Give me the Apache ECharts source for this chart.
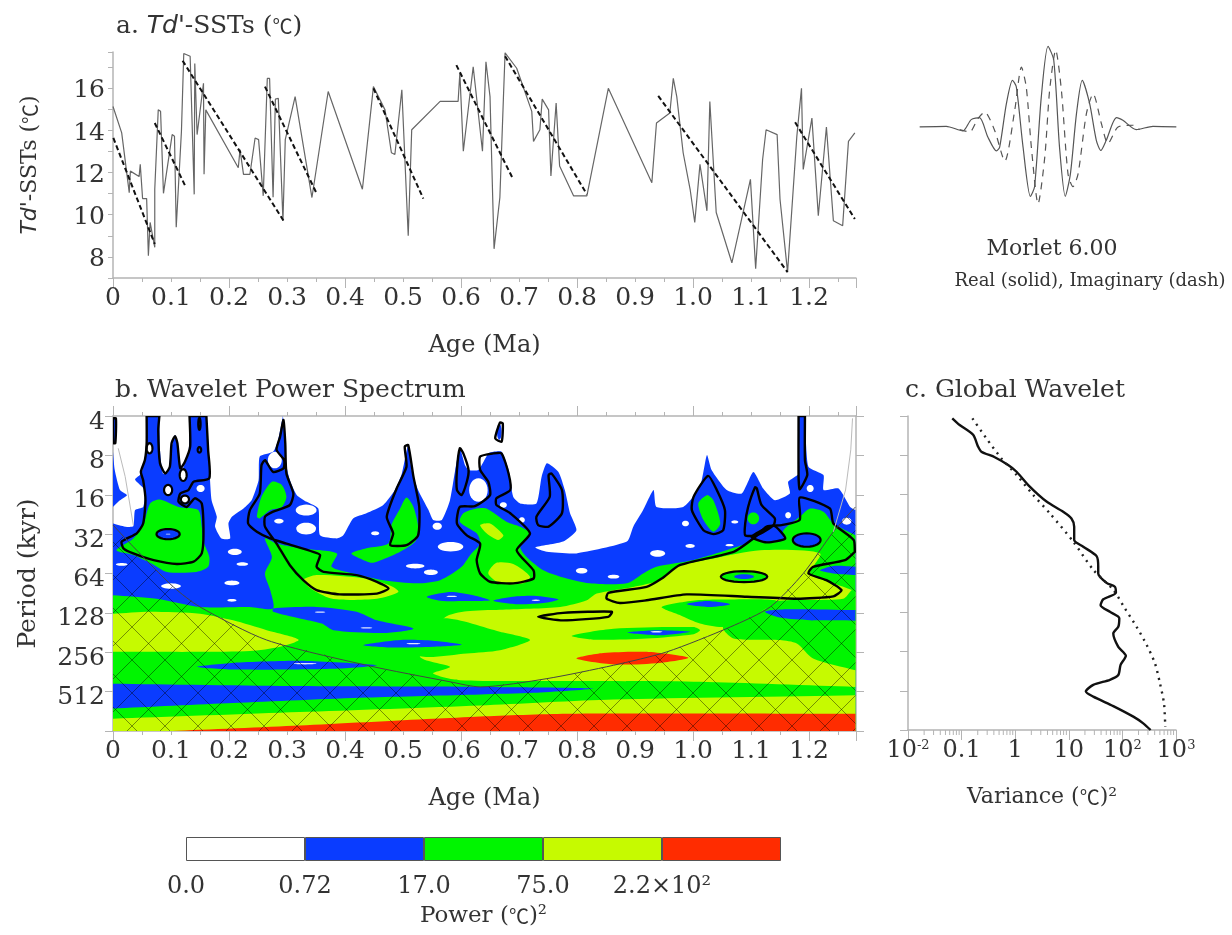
<!DOCTYPE html>
<html><head><meta charset="utf-8">
<script src="https://cdn.jsdelivr.net/npm/echarts@6/dist/echarts.min.js"></script>
<style>html,body{margin:0;background:#fff}#c{width:1232px;height:935px}#c canvas{filter:blur(.45px)}</style>
</head><body><div id="c"></div>
<script>
// ---------- panel a: age (Ma), value (degC)
const tdAge=[0,.015,.028,.030,.045,.047,.051,.058,.061,.064,.072,.072,.078,.082,.087,.102,.106,.109,.118,.122,.133,.140,.141,.145,.156,.157,.160,.216,.219,.225,.236,.245,.251,.259,.266,.270,.276,.280,.285,.293,.297,.314,.343,.371,.430,.449,.469,.480,.486,.498,.509,.515,.564,.595,.598,.604,.613,.621,.637,.643,.650,.657,.667,.673,.676,.696,.722,.725,.736,.740,.751,.755,.764,.770,.794,.817,.854,.929,.937,.960,.966,.972,.983,.995,1.003,1.012,1.024,1.029,1.032,1.040,1.067,1.099,1.108,1.120,1.126,1.145,1.150,1.163,1.179,1.187,1.190,1.205,1.216,1.230,1.242,1.258,1.268,1.279];
const tdVal=[15.12,13.87,11.04,12.06,11.8,12.38,10.76,10.76,8.06,9.63,8.45,11.2,14.96,14.89,11.01,13.79,13.71,9.4,13.95,17.63,17.5,10.96,17.16,13.79,16.22,11.91,14.96,12.22,13.08,11.91,11.91,13.63,13.55,10.89,16.45,16.45,10.82,15.47,15.51,9.71,13.55,15.59,10.81,15.83,11.2,16.06,14.96,12.93,12.85,15.91,9.0,14.02,15.36,15.36,16.69,13.0,15.12,17.0,13.0,17.24,15.59,8.38,10.81,15.44,17.66,16.93,14.89,13.47,14.02,15.47,14.96,11.83,15.28,12.3,10.89,10.89,15.98,11.51,14.34,14.81,16.45,15.59,12.93,11.2,9.63,12.38,10.18,15.36,15.36,10.1,7.72,11.67,7.44,12.61,14.02,13.79,10.73,7.28,13.71,15.98,12.14,14.57,9.95,14.15,9.71,9.47,13.47,13.87];
const trendSegments=[
 [[.0006,13.63],[.072,8.61]],[[.072,14.34],[.126,11.28]],[[.120,17.29],[.294,9.71]],[[.262,16.06],[.351,11.01]],
 [[.449,15.98],[.535,10.76]],[[.592,17.08],[.690,11.67]],[[.676,17.5],[.817,10.96]],[[.940,15.62],[1.163,7.28]],[[1.176,14.37],[1.279,9.79]]];

// ---------- wavelet inset: t, amplitude
const morletReal=[[-4.01,0],[-3.18,.006],[-2.66,-.037],[-2.4,.069],[-2.14,.087],[-1.88,-.094],[-1.61,-.225],[-1.51,-.188],[-1.3,.219],[-1.11,.4375],[-.99,.375],[-.78,-.188],[-.55,-.65],[-.42,-.56],[-.21,.28],[0,.756],[.18,.625],[.36,-.19],[.54,-.65],[.70,-.44],[.89,.125],[1.07,.4375],[1.3,.22],[1.51,-.125],[1.65,-.22],[1.82,-.125],[2.14,.0875],[2.34,.0625],[2.76,-.025],[3.28,.006],[4.01,0]];
const morletImag=[[-2.76,-.025],[-2.45,-.047],[-2.19,.078],[-1.98,.14],[-1.67,-.03],[-1.35,-.32],[-1.04,.156],[-.83,.56],[-.68,.375],[-.52,-.19],[-.31,-.72],[-.10,-.28],[.05,.34],[.24,.72],[.42,.34],[.625,-.44],[.78,-.56],[.94,-.44],[1.2,.125],[1.41,.31],[1.67,.03],[1.875,-.156],[2.19,0],[2.66,.016],[2.86,-.025]];

// ---------- panel b: contour regions as [age, log2(period)]
const blueMain=[[0,4.73],[.021,4.81],[.035,4.80],[.038,4.39],[.052,4.31],[.055,3.88],[.038,3.61],[.049,3.46],[.055,3.03],[.058,2.61],[.058,2],[.080,2],[.081,2.86],[.086,3.46],[.095,3.42],[.100,2.86],[.107,2.48],[.113,2.86],[.117,3.42],[.130,2.95],[.133,2],[.161,2],[.164,2.69],[.167,3.54],[.170,4.14],[.179,4.56],[.176,4.81],[.187,5.11],[.202,5.11],[.199,4.73],[.205,4.56],[.225,4.35],[.239,4.14],[.251,3.63],[.253,3.03],[.276,2.91],[.284,2.65],[.293,2],[.297,2.65],[.297,3.12],[.305,3.63],[.317,4.01],[.334,4.18],[.354,4.35],[.357,5.03],[.386,5.11],[.397,5.03],[.414,4.60],[.437,4.47],[.466,4.26],[.486,3.88],[.498,3.46],[.509,2.74],[.515,3.37],[.526,3.88],[.544,4.39],[.552,4.64],[.567,4.64],[.581,4.14],[.590,3.37],[.598,2.82],[.607,3.25],[.613,3.37],[.630,3.37],[.647,2.95],[.656,2.91],[.670,2.91],[.682,3.37],[.690,4.05],[.702,4.22],[.730,4.22],[.739,3.54],[.748,3.20],[.768,3.42],[.779,3.88],[.788,4.47],[.799,4.90],[.776,5.19],[.728,5.34],[.748,5.45],[.799,5.49],[.886,5.19],[.897,4.81],[.914,4.39],[.932,3.88],[.937,4.31],[.983,4.31],[1.012,3.80],[1.024,2.99],[1.032,3.37],[1.058,3.88],[1.084,3.97],[1.104,3.42],[1.121,3.84],[1.141,4.14],[1.167,3.97],[1.164,3.67],[1.182,3.46],[1.182,2],[1.193,2],[1.199,3.29],[1.225,3.50],[1.225,3.88],[1.251,3.84],[1.271,4.31],[1.28,4.39],[1.28,10],[0,10]];
const blueLeftWedge=[[0,2.91],[.003,3.37],[.012,3.88],[.024,4.01],[.012,4.14],[0,4.31]];
const blueLeftStrip=[[0,2.06],[.005,2.06],[.004,2.69],[0,2.69]];
const whiteHoles=[[.063,2.82,.005,.13],[.095,3.88,.006,.12],[.121,3.50,.006,.15],[.124,4.12,.006,.09],[.151,3.84,.007,.09],[.015,5.77,.010,.035],[.100,6.32,.017,.07],[.210,5.45,.012,.08],[.223,5.76,.010,.045],[.205,6.24,.013,.06],[.205,6.68,.008,.035],[.286,4.67,.008,.06],[.452,4.98,.007,.05],[.559,4.80,.008,.09],[.582,5.32,.022,.12],[.521,5.81,.016,.06],[.548,5.97,.012,.07],[.630,3.88,.016,.30],[.333,4.39,.018,.14],[.333,4.86,.017,.15],[.279,3.12,.012,.21],[.673,4.26,.006,.07],[.705,4.64,.005,.07],[1.072,4.69,.006,.04],[1.164,4.52,.005,.08],[1.202,3.84,.006,.09],[1.265,4.67,.008,.09],[.987,4.73,.006,.07],[.995,5.30,.008,.05],[.939,5.49,.013,.085],[.863,6.08,.010,.05],[.808,5.93,.010,.07],[1.063,5.28,.007,.03]];
const whiteGlints=[[.584,6.58,.009,.018],[.357,6.98,.009,.018],[.437,7.38,.010,.018],[.518,7.78,.012,.018],[.331,8.29,.020,.018],[.729,6.68,.007,.018],[.937,7.48,.01,.02],[.095,5.0,.004,.012]];
const greenMain=[[0,6.55],[.075,6.64],[.150,6.85],[.236,6.85],[.276,6.89],[.271,6.42],[.262,6.00],[.274,5.58],[.262,5.11],[.282,5.24],[.322,5.36],[.386,5.49],[.377,5.83],[.414,6.00],[.466,6.17],[.524,6.25],[.564,6.17],[.601,5.83],[.616,5.53],[.633,5.24],[.627,4.98],[.598,4.69],[.604,4.47],[.627,4.35],[.644,4.35],[.679,4.69],[.702,4.81],[.719,4.98],[.702,5.32],[.713,5.58],[.742,5.92],[.771,6.08],[.822,6.25],[.886,6.25],[.914,6.00],[.937,5.83],[1.001,5.66],[1.093,5.24],[1.104,5.15],[1.150,5.19],[1.156,4.90],[1.184,4.56],[1.202,4.35],[1.225,4.43],[1.242,4.73],[1.28,5.03],[1.28,10],[0,10]];
const greenLeftBlob=[[.006,5.41],[.035,5.11],[.052,4.77],[.064,4.22],[.081,4.12],[.113,4.31],[.147,4.39],[.153,4.81],[.156,5.19],[.166,5.58],[.164,5.83],[.144,5.96],[.093,5.96],[.067,5.75],[.035,5.53]];
const greenTongue=[[.248,4.56],[.256,4.05],[.274,3.67],[.291,3.75],[.299,4.05],[.291,4.31],[.271,4.39],[.253,4.60]];
const greenMidSpike=[[.411,5.49],[.437,5.36],[.475,5.24],[.480,4.77],[.495,4.35],[.506,4.07],[.518,4.31],[.526,4.81],[.521,5.19],[.495,5.45],[.466,5.64],[.446,5.73],[.426,5.62]];
const greenRightSpot=[[1.009,4.22],[1.024,4.01],[1.035,4.14],[1.047,4.73],[1.035,4.94],[1.018,4.64]];
const yellowLeft=[[0,7.02],[.064,6.97],[.150,7.02],[.207,7.19],[.265,7.44],[.320,7.68],[.288,7.86],[.236,7.97],[.150,7.99],[.052,7.99],[0,7.99]];
const yellowTail=[[.328,6.17],[.351,6.04],[.437,6.13],[.483,6.34],[.492,6.47],[.455,6.64],[.380,6.65],[.345,6.42]];
const yellowBlobA=[[.647,6.00],[.661,5.73],[.690,5.76],[.719,6.08],[.707,6.25],[.667,6.25]];
const yellowBlobB=[[.633,4.77],[.650,4.73],[.673,5.03],[.664,5.15],[.644,4.98]];
const yellowBig=[[.572,7.12],[.610,6.96],[.667,6.92],[.771,6.85],[.817,6.68],[.834,6.51],[.897,6.34],[.943,6.17],[.972,5.83],[1.035,5.62],[1.116,5.41],[1.219,5.49],[1.202,6.00],[1.242,6.25],[1.274,6.42],[1.28,6.47],[1.28,8.88],[1.012,8.75],[.782,8.73],[.598,8.71],[.552,8.54],[.581,8.37],[.529,8.10]];
const yellowBottom=[[0,9.69],[.322,9.52],[.633,9.35],[.863,9.20],[1.28,9.09],[1.28,10],[0,10]];
const greenWedge=[[.569,7.14],[.667,7.48],[.719,7.69],[.667,7.95],[.610,8.03],[.529,8.10],[.495,7.61]];
const greenIsland=[[.946,6.85],[1.006,6.68],[1.070,6.66],[1.144,6.69],[1.121,6.93],[1.087,7.19],[1.052,7.36],[1.012,7.27],[.978,7.06]];
const greenRight=[[1.052,7.36],[1.121,6.93],[1.144,6.70],[1.259,6.64],[1.274,6.42],[1.28,6.42],[1.28,8.46],[1.207,8.16],[1.179,7.78],[1.150,7.69],[1.070,7.65]];
const greenSliver=[[.791,7.58],[.863,7.40],[1.001,7.36],[1.012,7.44],[1.001,7.54],[.920,7.65],[.828,7.68]];
const redBottom=[[.102,10],[.322,9.86],[.552,9.69],[.633,9.63],[.782,9.56],[1.28,9.56],[1.28,10]];
const redMid=[[.799,8.16],[.845,8.02],[.920,7.99],[.992,8.14],[.943,8.27],[.863,8.31]];
const blueIslands=[
 [[0,8.80],[.322,8.86],[.633,8.88],[.828,8.92],[.725,9.03],[.633,9.07],[.437,9.15],[.207,9.29],[0,9.43]],
 [[.144,8.37],[.207,8.27],[.334,8.22],[.455,8.33],[.380,8.42],[.207,8.44]],
 [[.432,7.82],[.495,7.69],[.552,7.71],[.601,7.81],[.552,7.86],[.483,7.88]],
 [[.276,6.89],[.351,6.85],[.420,6.97],[.455,7.19],[.518,7.40],[.466,7.51],[.380,7.44],[.360,7.27],[.322,7.14],[.276,6.97]],
 [[.541,6.59],[.581,6.47],[.621,6.55],[.650,6.68],[.610,6.70],[.564,6.69]],
 [[.656,6.69],[.690,6.59],[.730,6.57],[.768,6.66],[.742,6.75],[.696,6.78]],
 [[.989,6.78],[1.024,6.70],[1.064,6.78],[1.029,6.85]],
 [[.886,7.50],[.937,7.44],[.995,7.48],[.943,7.57]],
 [[1.124,6.97],[1.161,6.91],[1.28,6.93],[1.28,7.20],[1.202,7.19],[1.150,7.12]],
 [[1.219,5.92],[1.242,5.81],[1.28,5.83],[1.28,6.04],[1.242,6.00]],
 [[1.101,5.07],[1.139,4.79],[1.159,5.11],[1.127,5.21]]];
const greenOvals=[[1.088,6.08,.040,.14],[1.104,4.60,.010,.15]];
const blueOvals=[[1.196,5.15,.024,.17],[.095,5.00,.020,.13],[1.088,6.08,.017,.06],[.666,2.40,.004,.20]];
const significance=[
 [[0,2.06],[.005,2.06],[.004,2.69],[0,2.69]],
 [[.015,5.19],[.041,4.98],[.052,4.73],[.056,4.14],[.052,3.63],[.048,3.42],[.055,3.12],[.058,2.69],[.058,2],[.080,2],[.078,2.36],[.081,3.20],[.090,3.46],[.098,3.29],[.101,2.69],[.107,2.51],[.111,2.69],[.116,3.33],[.124,3.16],[.133,2.78],[.132,2],[.161,2],[.164,2.86],[.166,3.58],[.139,3.67],[.130,3.88],[.116,3.97],[.113,4.18],[.127,4.31],[.141,4.09],[.153,4.22],[.156,4.98],[.153,5.49],[.139,5.70],[.110,5.76],[.070,5.66],[.035,5.49],[.018,5.36]],
 [[.294,2.10],[.288,2.53],[.282,2.86],[.295,3.12],[.294,3.33],[.276,3.42],[.262,3.12],[.256,3.25],[.253,3.97],[.236,4.39],[.233,4.73],[.248,4.94],[.271,5.11],[.299,5.24],[.345,5.45],[.357,5.53],[.351,5.83],[.363,5.96],[.420,6.04],[.455,6.21],[.475,6.38],[.455,6.51],[.391,6.53],[.351,6.42],[.328,6.17],[.305,5.79],[.282,5.24],[.262,4.81],[.262,4.56],[.276,4.43],[.305,4.26],[.311,3.97],[.299,3.46],[.297,2.69]],
 [[.478,5.28],[.506,5.28],[.526,5.03],[.528,4.31],[.518,3.54],[.509,2.74],[.503,2.78],[.506,3.29],[.489,3.84],[.472,4.56],[.483,4.98]],
 [[.598,2.82],[.593,3.37],[.593,3.88],[.601,4.01],[.610,3.67],[.613,3.37],[.604,2.95]],
 [[.633,3.03],[.656,2.95],[.670,2.95],[.682,3.46],[.685,3.88],[.661,4.09],[.661,4.26],[.685,4.47],[.719,4.98],[.696,5.41],[.725,5.92],[.725,6.13],[.690,6.25],[.650,6.21],[.633,6.00],[.627,5.66],[.633,5.24],[.610,5.03],[.593,4.73],[.598,4.31],[.624,4.29],[.650,4.01],[.647,3.67],[.633,3.37]],
 [[.756,3.46],[.774,3.88],[.774,4.47],[.751,4.81],[.733,4.77],[.730,4.56],[.753,4.05],[.751,3.50]],
 [[.733,7.10],[.776,7.00],[.860,6.97],[.854,7.10],[.776,7.19]],
 [[1.026,3.52],[1.001,4.05],[.998,4.39],[1.018,4.90],[1.035,5.00],[1.052,4.90],[1.055,4.39],[1.041,3.88]],
 [[1.107,3.81],[1.095,4.31],[1.090,4.73],[1.090,5.03],[1.110,5.03],[1.139,4.77],[1.141,4.60],[1.118,4.26],[1.110,3.84]],
 [[1.182,2],[1.182,3.54],[1.184,3.86],[1.197,3.50],[1.193,3.12],[1.193,2]],
 [[1.104,5.11],[1.127,4.81],[1.153,4.77],[1.184,4.64],[1.184,4.07],[1.236,4.35],[1.242,4.73],[1.277,5.15],[1.279,5.45],[1.262,5.66],[1.207,5.83],[1.199,6.00],[1.230,6.17],[1.256,6.42],[1.242,6.58],[1.179,6.64],[1.093,6.59],[.989,6.53],[.920,6.68],[.874,6.75],[.851,6.64],[.854,6.49],[.920,6.34],[.946,6.13],[.977,5.79],[1.070,5.45]],
 [[.659,2.57],[.667,2.17],[.672,2.19],[.670,2.65]],
 [[1.101,5.07],[1.139,4.79],[1.159,5.11],[1.127,5.21]]];
const significanceOvals=[[.063,2.82,.005,.13],[.121,3.50,.006,.15],[.095,3.88,.007,.13],[.124,4.12,.007,.10],[.095,5.00,.020,.13],[1.196,5.15,.024,.17],[1.088,6.08,.040,.14],[.149,2.2,.002,.15],[.149,2.86,.003,.07]];
const coneOfInfluence=[[0,4.77],[.035,5.32],[.104,6.34],[.150,6.85],[.265,7.69],[.437,8.33],[.581,8.75],[.633,8.88],[.748,8.67],[.863,8.33],[.955,7.99],[1.064,7.36],[1.133,6.85],[1.190,6.00],[1.242,4.94],[1.28,4.31]];
const coneLeftEdge=[[.009,2.82],[.021,3.54],[.035,4.77]];
const coneRightEdge=[[1.242,4.94],[1.263,3.88],[1.272,2.86],[1.275,2.06]];

// ---------- panel c: [variance, log2(period)]
const globalWavelet=[[.067,2.06],[.092,2.23],[.164,2.48],[.203,2.78],[.234,2.91],[.416,3.05],[.738,3.25],[1.06,3.42],[1.87,3.80],[3.84,4.18],[7.85,4.44],[11.2,4.61],[12.6,4.82],[12.6,5.16],[18.6,5.33],[33,5.57],[35.4,5.84],[35.4,6.01],[50.7,6.25],[72.4,6.35],[75.7,6.50],[44,6.67],[39.2,6.82],[58.5,6.99],[87.5,7.15],[83.8,7.37],[67.6,7.54],[83.8,7.88],[116,8.11],[92.5,8.34],[83.8,8.6],[58.5,8.72],[28.6,8.85],[20.8,9.02],[28.6,9.15],[67.6,9.39],[160,9.66],[245,9.83],[336,10]];
const significanceLevel=[[.159,2.06],[.29,2.57],[.553,3.08],[1.06,3.50],[2.16,4.01],[4.43,4.48],[12.1,5.2],[28.6,5.92],[67.6,6.43],[111,6.9],[184,7.37],[283,7.83],[405,8.3],[502,8.81],[597,9.32],[631,9.92]];
const varianceLabels={'0.01':'{b|10}{s|-2}','0.1':'{b|0.1}','1':'{b|1}','10':'{b|10}','100':'{b|10}{s|2}','1000':'{b|10}{s|3}'};

// ---------- colour bar
const powerLabels=['0.0','0.72','17.0','75.0','2.2×10²',''];
const WHITE='#ffffff',BLUE='#0a3cff',GREEN='#00f500',YELLOW='#c6fa00',RED='#ff2c00';
const powerColors=[WHITE,BLUE,GREEN,YELLOW,RED];

const SERIF='"DejaVu Serif","Liberation Serif",serif';
const TXT='#333',AX='#b4b4b4',FS=25;
const CJK={c:{fontFamily:'"Noto Sans CJK JP"',fontSize:20,color:TXT}};
const oval=([a,o,ra,ro])=>Array.from({length:28},(_,k)=>[a+ra*Math.cos(k*Math.PI/14),o+ro*Math.sin(k*Math.PI/14)]);
// points on the frame of the plot stay sharp corners
const onFrame=q=>q[0]<=.001||q[0]>=1.279||q[1]<=2.001||q[1]>=9.999;
const sharpen=poly=>poly.flatMap(q=>onFrame(q)?[q,q]:[q]);

// cross hatch tile for the cone of influence
const tile=document.createElement('canvas');tile.width=tile.height=33;
const g=tile.getContext('2d');g.strokeStyle='rgba(0,0,0,.42)';g.lineWidth=1;
g.beginPath();g.moveTo(0,0);g.lineTo(33,33);g.moveTo(33,0);g.lineTo(0,33);g.stroke();

const layer=(polys,style,smooth)=>({type:'custom',xAxisIndex:2,yAxisIndex:1,clip:true,silent:true,animation:false,z:3,
  data:polys.map((_,i)=>[i]),
  renderItem:(p,api)=>({type:'polygon',shape:{points:sharpen(polys[p.dataIndex]).map(q=>api.coord(q)),smooth:smooth},style:style})});
const S=.25;
const layers=[
 layer([blueMain,blueLeftWedge,blueLeftStrip],{fill:BLUE},.18),
 layer(whiteHoles.map(oval),{fill:WHITE},0),
 layer([greenMain,greenLeftBlob,greenTongue,greenMidSpike,greenRightSpot],{fill:GREEN},S),
 layer(greenOvals.slice(1).map(oval),{fill:GREEN},0),
 layer([yellowLeft,yellowTail,yellowBlobA,yellowBlobB,yellowBig,yellowBottom],{fill:YELLOW},S),
 layer([greenWedge,greenIsland,greenRight,greenSliver],{fill:GREEN},S),
 layer([greenOvals[0]].map(oval),{fill:GREEN},0),
 layer(blueIslands,{fill:BLUE},S),
 layer(blueOvals.map(oval),{fill:BLUE},0),
 layer([redBottom,redMid],{fill:RED},S),
 layer(whiteGlints.map(oval),{fill:'#dfe8ff'},0),
 layer([[...coneOfInfluence,[1.28,10],[0,10]]],{fill:{image:tile,repeat:'repeat'}},0),
 layer(significance,{fill:'none',stroke:'#000',lineWidth:2.4},.2),
 layer(significanceOvals.map(oval),{fill:'none',stroke:'#000',lineWidth:2.2},0),
];
const polyLine=(data,width,color,x,y,smooth)=>({type:'line',xAxisIndex:x,yAxisIndex:y,data:data,showSymbol:false,silent:true,animation:false,z:4,smooth:smooth,lineStyle:{color:color,width:width}});

const xCommon=(gridIndex,pos)=>({type:'value',gridIndex,position:pos,min:0,max:1.281,interval:.1,
  axisLine:{onZero:false,lineStyle:{color:AX,width:1.5}},splitLine:{show:false},
  axisTick:{length:4,lineStyle:{color:AX}},minorTick:{show:true,splitNumber:2,length:4,lineStyle:{color:AX}},minorSplitLine:{show:false}});
const xMajor=(gridIndex,pos)=>({type:'value',gridIndex,position:pos,min:0,max:1.281,interval:.2,
  axisLine:{show:false,onZero:false},splitLine:{show:false},axisLabel:{show:false},
  axisTick:{length:10,lineStyle:{color:AX}}});
const ageLabel={fontFamily:SERIF,fontSize:FS,color:TXT,margin:8,formatter:v=>v>1.25?'':(v===0?'0':v.toFixed(1))};
const ageAxis=(gridIndex)=>Object.assign(xCommon(gridIndex,'bottom'),{axisLabel:ageLabel,name:'Age (Ma)',nameLocation:'middle',nameGap:56,nameTextStyle:{fontFamily:SERIF,fontSize:24,color:TXT}});
const periodTicks={length:8,lineStyle:{color:AX}};

const xAxes=[
 ageAxis(0),xMajor(0,'bottom'),
 ageAxis(1),xMajor(1,'bottom'),
 Object.assign(xCommon(1,'top'),{axisLabel:{show:false}}),xMajor(1,'top'),
 {type:'log',gridIndex:2,logBase:10,min:.01,max:1000,position:'bottom',axisLine:{onZero:false,lineStyle:{color:AX,width:1.5}},splitLine:{show:false},
  axisTick:{length:10,lineStyle:{color:AX}},axisLabel:{margin:9,hideOverlap:false,
   rich:{b:{fontFamily:SERIF,fontSize:24,color:TXT},s:{fontFamily:SERIF,fontSize:13,color:TXT,verticalAlign:'top'}},
   formatter:v=>varianceLabels[String(+v.toPrecision(3))]||''},
  name:'Variance ({c|℃})²',nameLocation:'middle',nameGap:56,nameTextStyle:{fontFamily:SERIF,fontSize:22,color:TXT,rich:CJK}},
 {type:'value',gridIndex:3,min:-4,max:4,show:false},
 {type:'value',gridIndex:4,min:0,max:5,interval:1,axisLine:{show:false},axisTick:{show:false},splitLine:{show:false},
  axisLabel:{fontFamily:SERIF,fontSize:24,color:TXT,margin:14,formatter:v=>powerLabels[v]},
  name:'Power ({c|℃})²',nameLocation:'middle',nameGap:44,nameTextStyle:{fontFamily:SERIF,fontSize:23,color:TXT,rich:CJK}},
];
const yAxes=[
 {type:'value',gridIndex:0,min:7,max:17.7,interval:1,axisLine:{onZero:false,lineStyle:{color:AX,width:1.5}},splitLine:{show:false},
  axisTick:{length:5,lineStyle:{color:AX}},axisLabel:{fontFamily:SERIF,fontSize:FS,color:TXT,margin:8,verticalAlign:'top',lineHeight:6,formatter:v=>(v%2===0)?String(v):''},
  name:"{i|Td'}-SSTs ({c|℃})",nameLocation:'middle',nameGap:72,nameTextStyle:{fontFamily:SERIF,fontSize:22,color:TXT,rich:Object.assign({i:{fontFamily:'"DejaVu Sans",sans-serif',fontStyle:'italic',fontSize:22,color:TXT}},CJK)}},
 {type:'value',gridIndex:1,min:2,max:10,interval:1,inverse:true,axisLine:{onZero:false,lineStyle:{color:AX,width:1.5}},splitLine:{show:false},axisTick:periodTicks,
  axisLabel:{fontFamily:SERIF,fontSize:FS,color:TXT,margin:8,verticalAlign:'top',lineHeight:12,formatter:v=>v>=10?'':String(Math.pow(2,v))},
  name:'Period (kyr)',nameLocation:'middle',nameGap:72,nameTextStyle:{fontFamily:SERIF,fontSize:25,color:TXT}},
 {type:'value',gridIndex:1,position:'right',min:2,max:10,interval:1,inverse:true,axisLine:{onZero:false,lineStyle:{color:AX,width:1.5}},splitLine:{show:false},axisTick:periodTicks,axisLabel:{show:false}},
 {type:'value',gridIndex:2,min:2,max:10,interval:1,inverse:true,axisLine:{onZero:false,lineStyle:{color:AX,width:1.5}},splitLine:{show:false},axisTick:periodTicks,axisLabel:{show:false}},
 {type:'value',gridIndex:3,min:-.872,max:.815,show:false},
 {type:'category',gridIndex:4,data:[''],axisLine:{show:false},axisTick:{show:false},axisLabel:{show:false}},
];

// minor decade ticks of the log axis in panel c
const minorDecades=[];[.01,.1,1,10,100].forEach(d=>{for(let m=2;m<10;m++)minorDecades.push([+(d*m).toPrecision(2),10]);});

const series=[
 polyLine(tdAge.map((a,i)=>[a,tdVal[i]]),1.2,'#666',0,0,false),
 ...trendSegments.map(s=>Object.assign(polyLine(s,2,'#111',0,0,false),{lineStyle:{color:'#111',width:2,type:[5,3]}})),
 ...layers,
 Object.assign(polyLine(coneOfInfluence,1,'#444',2,1,.25),{z:5}),
 Object.assign(polyLine(coneLeftEdge,1,'#bbb',2,1,false),{z:5}),
 Object.assign(polyLine(coneRightEdge,1,'#bbb',2,1,false),{z:5}),
 polyLine(globalWavelet,2.4,'#111',6,3,.25),
 Object.assign(polyLine(significanceLevel,2.4,'#222',6,3,.25),{lineStyle:{color:'#222',width:2.4,type:[2,5]}}),
 {type:'custom',xAxisIndex:6,yAxisIndex:3,clip:false,silent:true,animation:false,data:minorDecades,
  renderItem:(p,api)=>{const c=api.coord([api.value(0),api.value(1)]);return {type:'line',shape:{x1:c[0],y1:c[1],x2:c[0],y2:c[1]+5},style:{stroke:AX,lineWidth:1}};}},
 polyLine(morletReal,1.2,'#555',7,4,.25),
 Object.assign(polyLine(morletImag,1.2,'#555',7,4,.25),{lineStyle:{color:'#555',width:1.2,type:[7,6]}}),
 ...powerColors.map(c=>({type:'bar',xAxisIndex:8,yAxisIndex:5,stack:'power',data:[1],barWidth:'100%',silent:true,animation:false,itemStyle:{color:c,borderColor:'#555',borderWidth:1}})),
];
const titleStyle={fontFamily:SERIF,fontSize:FS,fontWeight:'normal',color:TXT};
const chart=echarts.init(document.getElementById('c'));
chart.setOption({
 animation:false,backgroundColor:'#fff',
 title:[
  {text:"a. {i|Td'}-SSTs ({c|℃})",left:116,top:14,padding:0,textStyle:Object.assign({},titleStyle,{rich:Object.assign({i:{fontFamily:'"DejaVu Sans",sans-serif',fontStyle:'italic',fontSize:FS,color:TXT}},CJK)})},
  {text:'b. Wavelet Power Spectrum',left:115,top:378,padding:0,textStyle:titleStyle},
  {text:'c. Global Wavelet',left:905,top:378,padding:0,textStyle:titleStyle},
  {text:'Morlet 6.00',left:1052,top:238,padding:0,textAlign:'center',textStyle:Object.assign({},titleStyle,{fontSize:22})},
  {text:'Real (solid), Imaginary (dash)',left:1090,top:272,padding:0,textAlign:'center',textStyle:Object.assign({},titleStyle,{fontSize:18})},
 ],
 grid:[
  {left:113,top:52,width:743,height:226},
  {left:113,top:416,width:743,height:315},
  {left:908,top:416,width:268,height:314},
  {left:920,top:40,width:256,height:180},
  {left:186,top:837,width:595,height:24},
 ],
 xAxis:xAxes,yAxis:yAxes,series:series
});
</script></body></html>
